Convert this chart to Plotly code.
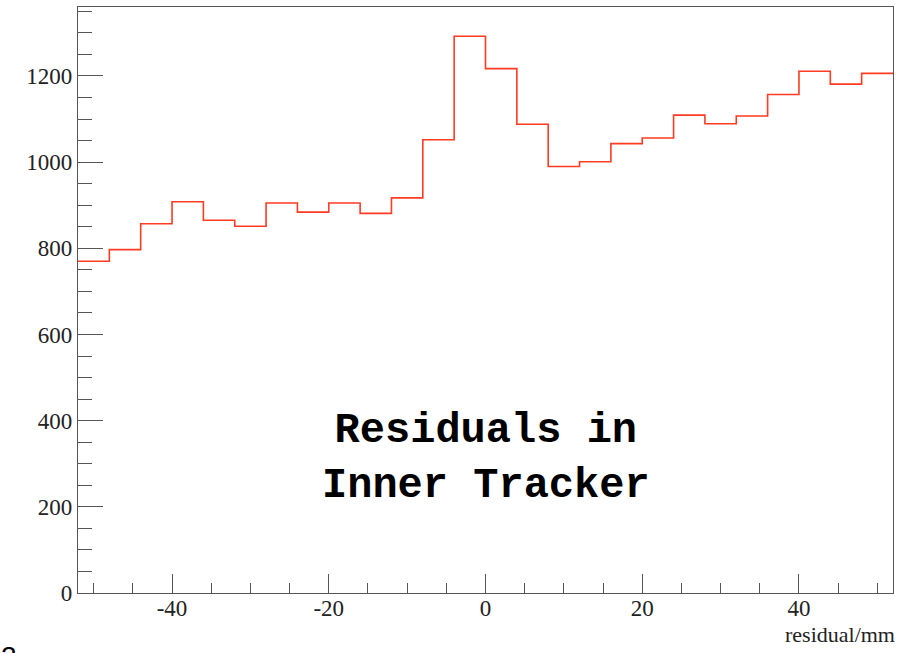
import plotly.graph_objects as go

# Histogram: residuals in inner tracker, 26 bins of width 4 mm from -52 to 52
bin_edges = [-52 + 4 * i for i in range(27)]
counts = [770, 797, 857, 908, 865, 851, 905, 884, 905, 881, 917, 1052, 1292,
          1217, 1088, 990, 1001, 1043, 1056, 1109, 1089, 1107, 1157, 1211, 1181, 1206]
x_tick_vals = [-40, -20, 0, 20, 40]
x_tick_text = ["-40", "-20", "0", "20", "40"]
y_tick_vals = [0, 200, 400, 600, 800, 1000, 1200]
y_tick_text = ["0", "200", "400", "600", "800", "1000", "1200"]
x_title = "residual/mm"
label_text = "Residuals in<br>Inner Tracker"

line_color = "#FF3B22"
axis_color = "#555555"
serif = "'Liberation Serif', 'Times New Roman', serif"
tick_font = dict(family=serif, size=23, color="#222222")

xs = bin_edges
ys = counts + [counts[-1]]

fig = go.Figure()
fig.add_trace(go.Scatter(
    x=xs, y=ys, mode="lines", line=dict(color=line_color, width=1.6, shape="hv"),
    hoverinfo="skip", showlegend=False,
))

fig.update_layout(
    width=903, height=653,
    margin=dict(l=78, r=10, t=7, b=60),
    paper_bgcolor="white", plot_bgcolor="white",
    showlegend=False,
)
fig.update_xaxes(
    range=[-52, 52], tickmode="array", tickvals=x_tick_vals, ticktext=x_tick_text,
    ticks="inside", ticklen=19, tickwidth=1, ticklabelstandoff=-6,
    tickcolor=axis_color, showline=True, linecolor=axis_color, linewidth=1.3, mirror=True,
    showgrid=False, zeroline=False, tickfont=tick_font,
    minor=dict(dtick=5, tick0=0, ticks="inside", ticklen=10, tickcolor=axis_color, tickwidth=1, showgrid=False),
)
fig.update_yaxes(
    range=[0, 1360], tickmode="array", tickvals=y_tick_vals, ticktext=y_tick_text,
    ticks="inside", ticklen=25, tickwidth=1,
    tickcolor=axis_color, showline=True, linecolor=axis_color, linewidth=1.3, mirror=True,
    showgrid=False, zeroline=False, tickfont=tick_font,
    minor=dict(dtick=50, tick0=0, ticks="inside", ticklen=14, tickcolor=axis_color, tickwidth=1, showgrid=False),
)

fig.add_annotation(
    x=1, xref="paper", xanchor="right", xshift=4,
    y=-0.071, yref="paper", yanchor="middle",
    text=x_title, showarrow=False,
    font=dict(family=serif, size=22, color="#222222"),
)
fig.add_annotation(
    x=0, xref="x", xanchor="center",
    y=313, yref="y", yanchor="middle",
    text=label_text, showarrow=False,
    font=dict(family="'Liberation Mono', 'Courier New', monospace", size=42, color="black", weight="bold"),
)
fig.add_annotation(
    x=-0.097, xref="paper", xanchor="left",
    y=-0.078, yref="paper", yanchor="top",
    text="2", showarrow=False,
    font=dict(family="'Liberation Sans', Arial, sans-serif", size=28, color="black"),
)

fig.write_html("out.html")
